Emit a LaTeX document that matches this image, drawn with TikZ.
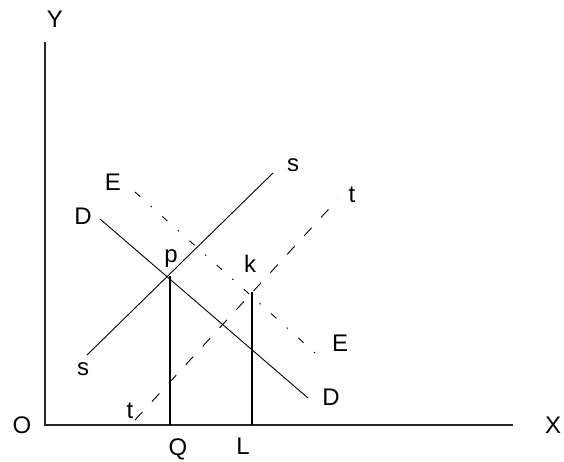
\documentclass[tikz,border=0pt]{standalone}
\usepackage{fontspec}
\setmainfont{Liberation Sans}
\begin{document}
\begin{tikzpicture}[x=1pt,y=-1pt,
  lbl/.style={inner sep=0pt, font=\fontsize{24}{28}\selectfont},
  axis/.style={line width=1.4pt, draw=black!85},
  curve/.style={line width=0.9pt},
  tline/.style={line width=0.9pt, dash pattern=on 11pt off 14pt},
  eline/.style={line width=0.9pt, dash pattern=on 7pt off 14pt on 1.5pt off 14pt},
  drop/.style={line width=1.1pt}]
\useasboundingbox (0,0) rectangle (564,462);
% axes
\coordinate (O) at (45,425);
\coordinate (Ytop) at (45,42);
\coordinate (Xend) at (513,425);
\draw[axis] (Ytop) -- (O) -- (Xend);
% line endpoints
\coordinate (s1) at (87,355);
\coordinate (s2) at (273,173);
\coordinate (d1) at (100,219);
\coordinate (d2) at (308,398);
\coordinate (e1) at (135,192);
\coordinate (e2) at (323,360);
\coordinate (t1) at (135,420);
\coordinate (t2) at (338,199);
\coordinate (p) at (170,276);
\coordinate (k) at (252,292);
\coordinate (Qb) at (170,425);
\coordinate (Lb) at (252,425);
\draw[curve] (s1) -- (s2);
\draw[curve] (d1) -- (d2);
\draw[eline] (e1) -- (e2);
\draw[tline] (t1) -- (t2);
\draw[drop] (p) -- (Qb);
\draw[drop] (k) -- (Lb);
% labels
\node[lbl] (lY) at (55,19) {Y};
\node[lbl] (lO) at (22,425) {O};
\node[lbl] (lX) at (553,425) {X};
\node[lbl] (lQ) at (178,449) {Q};
\node[lbl] (lL) at (243,446) {L};
\node[lbl] (ls1) at (83,369) {s};
\node[lbl] (lt1) at (130,411) {t};
\node[lbl] (lE2) at (340,343) {E};
\node[lbl] (lD2) at (331,397) {D};
\node[lbl] (ls2) at (293,165) {s};
\node[lbl] (lt2) at (352,195) {t};
\node[lbl] (lk) at (250,264) {k};
\node[lbl] (lp) at (171,259) {p};
\node[lbl] (lE1) at (113,182) {E};
\node[lbl] (lD1) at (83,216) {D};
\end{tikzpicture}
\end{document}
